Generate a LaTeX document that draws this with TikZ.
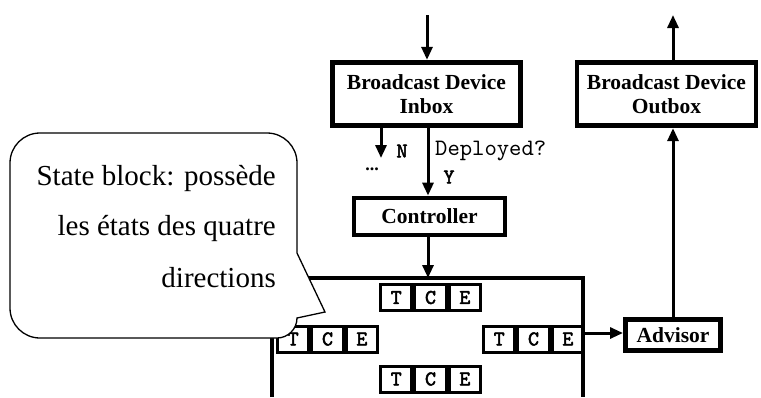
\documentclass[tikz,border=0pt]{standalone}
\usepackage{fontspec}
\setmainfont{Liberation Serif}
\newfontfamily\ttreg{lmmono10-regular}[Extension=.otf]
\newfontfamily\ttbold{lmmono10-regular}[Extension=.otf,FakeBold=2.2]
\usetikzlibrary{arrows.meta}
\begin{document}
\begin{tikzpicture}[x=1pt,y=-1pt,
  box/.style={draw,line width=4.8pt,fill=white,inner sep=0pt,align=center,
    font=\fontsize{21.5}{24}\selectfont\bfseries},
  arr/.style={line width=3pt,-{Triangle[length=13pt,width=11pt]}},
  wall/.style={line width=4.8pt},
  cell/.style={draw,line width=3pt,minimum width=31.33pt,minimum height=26pt,inner sep=0pt,
    font=\fontsize{21}{21}\selectfont\ttbold},
  lbl/.style={inner sep=0pt,font=\fontsize{21}{21}\selectfont\ttbold},
  bubbletext/.style={inner sep=0pt,anchor=base east,font=\fontsize{29}{30}\selectfont}]
\useasboundingbox (0,0) rectangle (761,397);

% boxes
\node[box,minimum width=188.5pt,minimum height=63.5pt] (inbox) at (426.5,94) {Broadcast Device\\Inbox};
\node[box,minimum width=179pt,minimum height=63.5pt] (outbox) at (666.5,94) {Broadcast Device\\Outbox};
\node[box,minimum width=151pt,minimum height=37pt] (ctrl) at (429.5,216.5) {Controller};
\node[box,line width=5pt,minimum width=95pt,minimum height=31pt] (adv) at (673,335) {Advisor};

% state block (open at the bottom)
\coordinate (stTL) at (272,278);
\coordinate (stTR) at (583,278);
\coordinate (stBL) at (272,397);
\coordinate (stBR) at (583,397);
\draw[wall] (stBL) -- (stTL) -- (stTR) -- (stBR);

% TCE groups
\node[cell] (a1) at (396.2,297.5) {T};
\node[cell,anchor=west] (a2) at (a1.east) {C};
\node[cell,anchor=west] (a3) at (a2.east) {E};
\node[cell] (b1) at (293.2,339) {T};
\node[cell,anchor=west] (b2) at (b1.east) {C};
\node[cell,anchor=west] (b3) at (b2.east) {E};
\node[cell] (c1) at (499.2,339) {T};
\node[cell,anchor=west] (c2) at (c1.east) {C};
\node[cell,anchor=west] (c3) at (c2.east) {E};
\node[cell] (d1) at (396.2,379) {T};
\node[cell,anchor=west] (d2) at (d1.east) {C};
\node[cell,anchor=west] (d3) at (d2.east) {E};

% connectors
\coordinate (inTop) at (427,15);
\draw[arr] (inTop) -- (inTop |- inbox.north);
\coordinate (mainX) at (428,128);
\draw[arr] (inbox.south -| mainX) -- (ctrl.north -| mainX);
\draw[arr] (ctrl.south -| mainX) -- (stTL -| mainX);
\coordinate (nEnd) at (381,158);
\draw[arr] (inbox.south -| nEnd) -- (nEnd);
\coordinate (stR) at (583,333);
\draw[arr] (stR) -- (stR -| adv.west);
\draw[arr] (adv.north) -- (adv.north |- outbox.south);
\coordinate (outTop) at (673,15);
\draw[arr] (outbox.north -| outTop) -- (outTop);

% labels
\node[lbl] (lN) at (402,151) {N};
\node[lbl] (lY) at (449,177) {Y};
\node[inner sep=0pt,anchor=west,font=\fontsize{23.5}{24}\selectfont\ttreg] (lDep) at (435,151) {Deployed?};
\node[inner sep=0pt,anchor=base,font=\fontsize{18}{18}\selectfont\bfseries] (ldots) at (372,170) {...};

% callout
\draw[line width=1.3pt,fill=white] (297,253) -- (297,163)
  .. controls (297,146.4) and (283.6,133) .. (267,133) -- (40,133)
  .. controls (23.4,133) and (10,146.4) .. (10,163) -- (10,308)
  .. controls (10,324.6) and (23.4,338) .. (40,338) -- (277,338)
  .. controls (288,338) and (297,329) .. (297,318)
  -- (325,312) -- cycle;
\node[bubbletext] (t1) at (276,185) {State block: possède};
\node[bubbletext] (t2) at (276,235) {les états des quatre};
\node[bubbletext] (t3) at (276,287) {directions};
\end{tikzpicture}
\end{document}
